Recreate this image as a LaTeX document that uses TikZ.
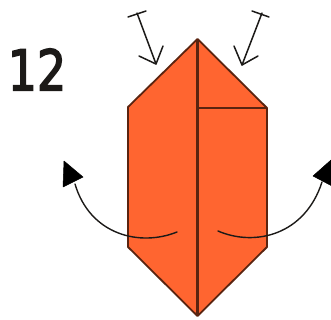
\documentclass[tikz,border=0pt]{standalone}
\usepackage{fontspec}
\newfontfamily\numfont[FakeBold=3]{DejaVu Sans}
\definecolor{paper}{HTML}{FF6530}
\definecolor{crease}{HTML}{5A2410}
\definecolor{ink}{HTML}{1C1A18}
\tikzset{
  fold/.style={draw=crease,line width=2.6pt,line join=round},
  outline/.style={fill=paper,draw=crease,line width=1.8pt,line join=round},
  thin arrow/.style={draw=ink,line width=1.5pt,line cap=round,line join=round},
  curve arrow/.style={draw=ink,line width=1.4pt,line cap=round},
  head/.style={fill=black,draw=black,line width=.5pt,line join=round}
}
\begin{document}
\begin{tikzpicture}[x=1pt,y=-1pt]
\useasboundingbox (0,0) rectangle (331,320);
\clip (0,0) rectangle (331,320);
\coordinate (T) at (197.5,39);
\coordinate (RT) at (267,108);
\coordinate (RB) at (267,247);
\coordinate (B) at (197.5,316);
\coordinate (LB) at (128,247);
\coordinate (LT) at (128,107);
\coordinate (M) at (197.5,108);
\draw[outline] (T)--(RT)--(RB)--(B)--(LB)--(LT)--cycle;
\draw[fold] (T)--(B);
\draw[fold] (M)--(RT);
% pleat arrows
\coordinate (a1) at (137,13); \coordinate (a2) at (156,64);
\coordinate (a3) at (128,17); \coordinate (a4) at (146,11);
\coordinate (a5) at (139,56); \coordinate (a6) at (163,46);
\draw[thin arrow] (a1)--(a2);
\draw[thin arrow] (a3)--(a4);
\draw[thin arrow] (a5)--(a2)--(a6);
\coordinate (b1) at (262,13); \coordinate (b2) at (242,65);
\coordinate (b3) at (252,11); \coordinate (b4) at (269,17);
\coordinate (b5) at (234,46); \coordinate (b6) at (258,56);
\draw[thin arrow] (b1)--(b2);
\draw[thin arrow] (b3)--(b4);
\draw[thin arrow] (b5)--(b2)--(b6);
% curved arrows
\coordinate (c1) at (177,232); \coordinate (c2) at (75,184);
\coordinate (d1) at (218,231); \coordinate (d2) at (322,182);
\draw[curve arrow] (c1) .. controls (140,247) and (90,235) .. (c2);
\draw[curve arrow] (d1) .. controls (255,247) and (305,235) .. (d2);
\coordinate (h1) at (64,161); \coordinate (h2) at (63,187); \coordinate (h3) at (83,177);
\coordinate (k1) at (331,160); \coordinate (k2) at (332,186); \coordinate (k3) at (313,176);
\fill[head] (h1)--(h2)--(h3)--cycle;
\fill[head] (k1)--(k2)--(k3)--cycle;
\node[inner sep=0pt,text=ink,xscale=.82,anchor=center] (num) at (37,69.5) {\fontsize{56}{56}\selectfont\numfont 12};
\end{tikzpicture}
\end{document}
